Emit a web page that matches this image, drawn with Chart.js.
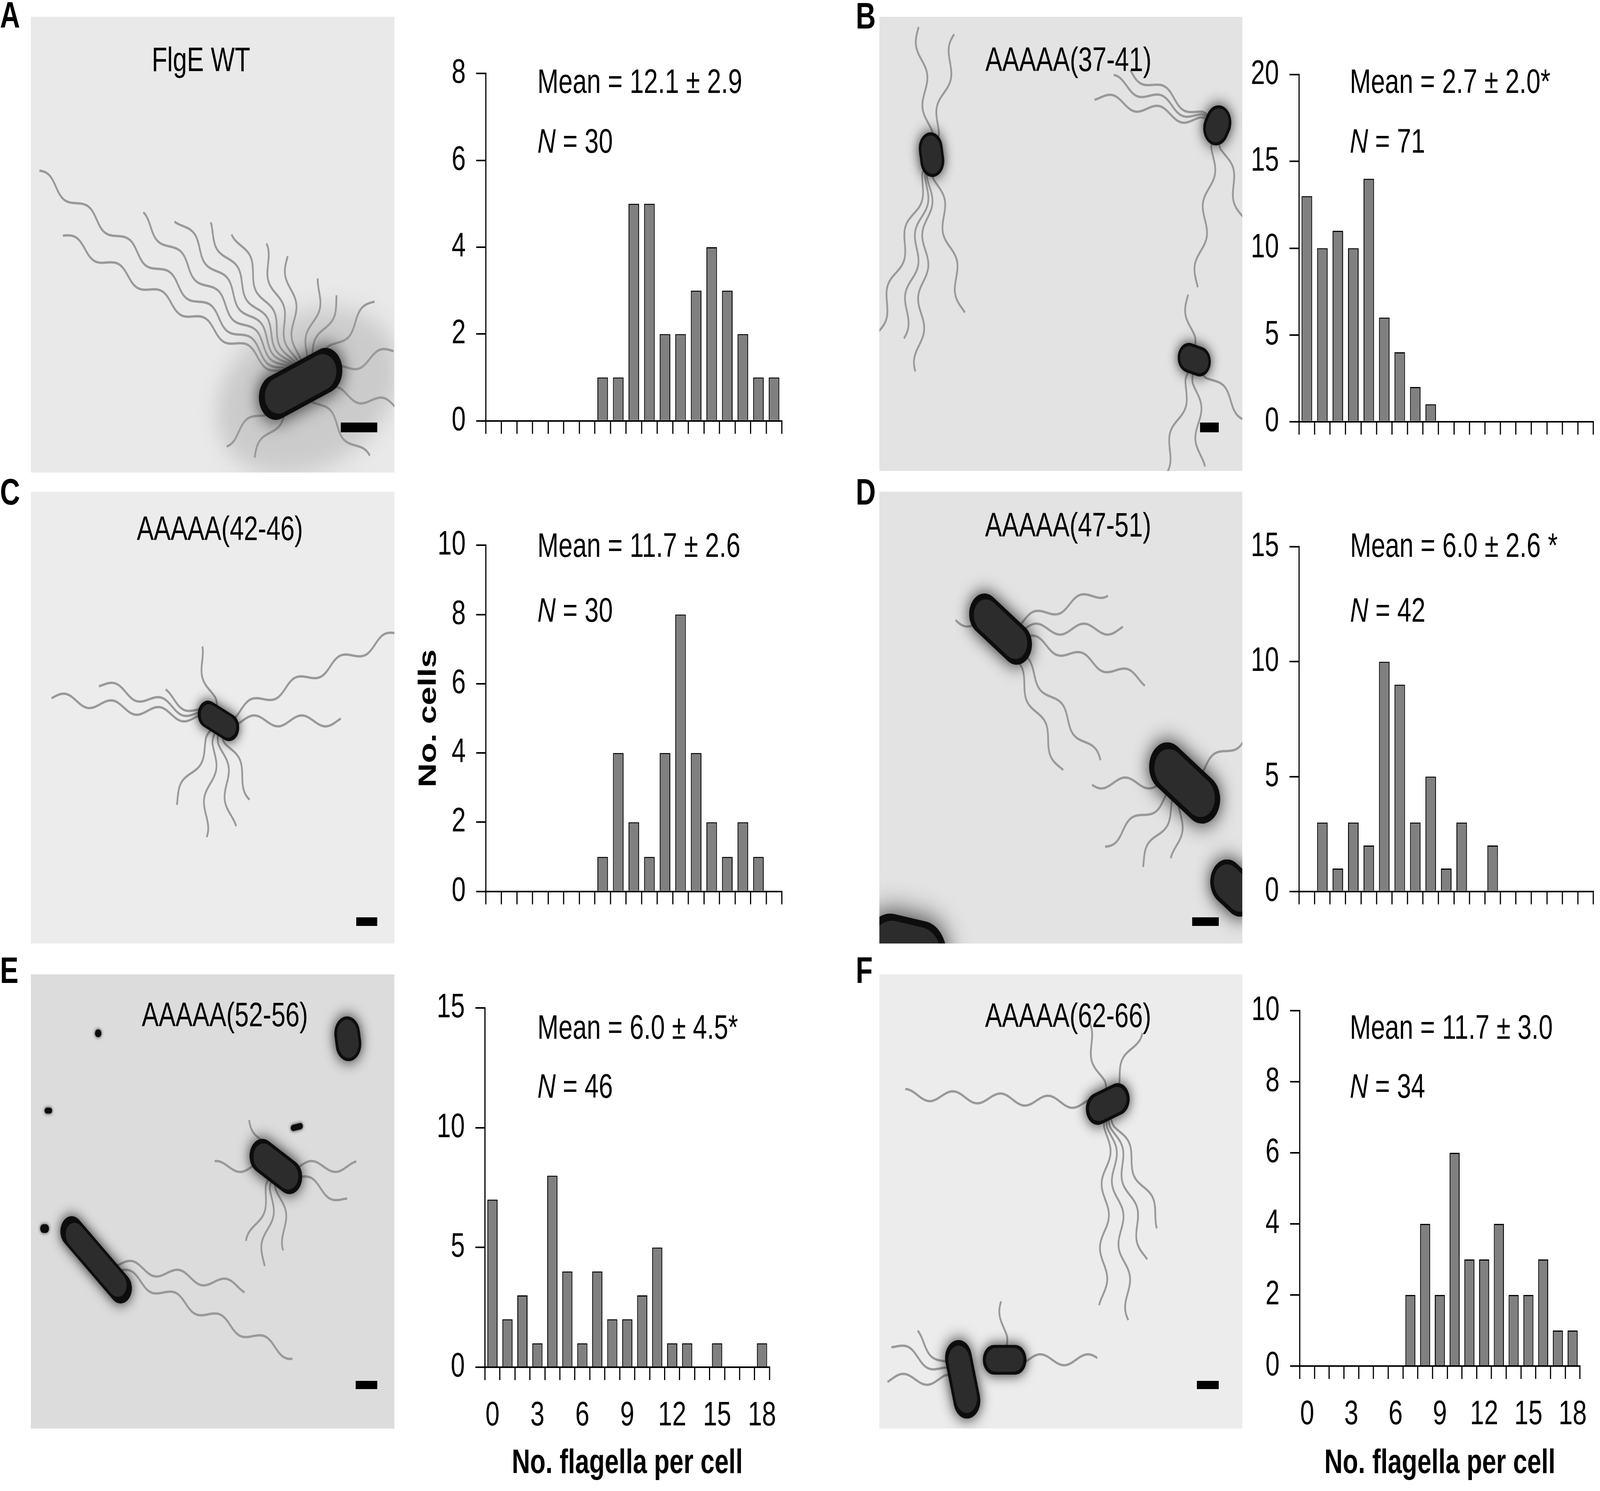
<!DOCTYPE html>
<html>
<head>
<meta charset="utf-8">
<script src="https://cdn.jsdelivr.net/npm/chart.js@4.4.1/dist/chart.umd.min.js"></script>
<style>
  html, body { margin: 0; padding: 0; background: #fff; overflow: hidden; }
  #fig { position: absolute; left: 0; top: 0; width: 5493px; height: 3818px; transform-origin: 0 0;
         font-family: 'Liberation Sans', Arial, sans-serif; color: #000; background: #fff; }
  .txt { position: absolute; white-space: nowrap; line-height: 1; }
  #fig canvas { position: absolute; }
</style>
</head>
<body>
<div id="fig"></div>
<script>
// histogram bins (no. flagella per cell)
const flagellaBins = ['0','1','2','3','4','5','6','7','8','9','10','11','12','13','14','15','16','17','18'];
const xTickLabels = ['0','3','6','9','12','15','18'];

// no. cells per bin
const countsWT    = [0,0,0,0,0,0,0,1,1,5,5,2,2,3,4,3,2,1,1];
const counts37_41 = [13,10,11,10,14,6,4,2,1,0,0,0,0,0,0,0,0,0,0];
const counts42_46 = [0,0,0,0,0,0,0,1,4,2,1,4,8,4,2,1,2,1,0];
const counts47_51 = [0,3,1,3,2,10,9,3,5,1,3,0,2,0,0,0,0,0,0];
const counts52_56 = [7,2,3,1,8,4,1,4,2,2,3,5,1,1,0,1,0,0,1];
const counts62_66 = [0,0,0,0,0,0,0,2,4,2,6,3,3,4,2,2,3,1,1];

const strainLabels = ['FlgE WT','AAAAA(37-41)','AAAAA(42-46)','AAAAA(47-51)','AAAAA(52-56)','AAAAA(62-66)'];
const meanLabels = ['Mean = 12.1 ± 2.9','Mean = 2.7 ± 2.0*','Mean = 11.7 ± 2.6','Mean = 6.0 ± 2.6 *','Mean = 6.0 ± 4.5*','Mean = 11.7 ± 3.0'];
const nLabels = [30, 71, 30, 42, 46, 34];

const fig = document.getElementById('fig');
// the figure is laid out at 5493 x 3818 px; stretch it onto whatever window we get
fig.style.transform = 'scale(' + (window.innerWidth / 5493) + ',' + (window.innerHeight / 3818) + ')';

Chart.defaults.font.family = "'Liberation Sans', Arial, sans-serif";
Chart.defaults.color = '#000';

// place text by its baseline
function addText(html, x, baseline, size, opt) {
  opt = opt || {};
  const d = document.createElement('div');
  d.className = 'txt';
  d.innerHTML = html;
  d.style.fontSize = size + 'px';
  d.style.fontWeight = opt.bold ? 'bold' : 'normal';
  d.style.left = x + 'px';
  d.style.top = (baseline - 0.8465 * size) + 'px';
  if (opt.center) d.style.transform = 'translateX(-50%)';
  fig.appendChild(d);
}

// --- micrographs (only a rough sketch of the EM images) ---
function wave(ctx, x0, y0, ang, len) {
  const a = ang * Math.PI / 180, c = Math.cos(a), s = Math.sin(a);
  ctx.beginPath();
  for (let t = 0; t <= len; t += 6) {
    const off = 14 * Math.sin(t / 26) * Math.min(1, t / 60);
    const px = x0 + c * t - s * off, py = y0 + s * t + c * off;
    if (t === 0) ctx.moveTo(px, py); else ctx.lineTo(px, py);
  }
  ctx.stroke();
}

function cell(ctx, c) {
  ctx.save();
  ctx.translate(c.x, c.y);
  ctx.rotate((c.rot || 0) * Math.PI / 180);
  const l = c.len, w = c.wid, r = w / 2;
  const path = () => {
    ctx.beginPath();
    ctx.moveTo(-l / 2 + r, -r);
    ctx.lineTo(l / 2 - r, -r);
    ctx.arc(l / 2 - r, 0, r, -Math.PI / 2, Math.PI / 2);
    ctx.lineTo(-l / 2 + r, r);
    ctx.arc(-l / 2 + r, 0, r, Math.PI / 2, Math.PI * 1.5);
    ctx.closePath();
  };
  ctx.shadowColor = 'rgba(0,0,0,0.85)';
  ctx.shadowBlur = Math.max(10, w * 0.45);
  ctx.fillStyle = '#0d0d0d';
  path(); ctx.fill();
  ctx.shadowBlur = 0;
  if (w > 40) {
    ctx.scale(0.86, 0.8);
    ctx.fillStyle = '#2c2c2c';
    path(); ctx.fill();
  }
  ctx.restore();
}

const micrographs = [
  { x: 106, y: 43, w: 1248, h: 1167, bg: '#e9e9e9', bar: [1064, 1039, 125, 25],
    halo: { x: 950, y: 960, rx: 320, ry: 200 },
    cells: [{ x: 926, y: 940, len: 300, wid: 115, rot: -22,
      fl: [[211, 1050], [205, 900], [218, 700], [225, 600], [232, 520], [240, 450], [250, 380], [262, 330], [285, 280], [300, 260], [320, 330], [345, 330], [10, 330], [40, 300], [130, 250], [150, 300]] }] },
  { x: 3019, y: 43, w: 1246, h: 1163, bg: '#e3e3e3', bar: [1101, 1039, 64, 25],
    cells: [
      { x: 179, y: 353, len: 115, wid: 82, rot: 80, fl: [[262, 330], [285, 320], [95, 560], [102, 480], [112, 620], [75, 420]] },
      { x: 1160, y: 278, len: 105, wid: 88, rot: -60, fl: [[190, 430], [198, 380], [205, 330], [100, 420], [70, 260]] },
      { x: 1081, y: 878, len: 115, wid: 76, rot: 15, fl: [[262, 170], [110, 360], [85, 280], [40, 250]] }] },
  { x: 106, y: 1259, w: 1248, h: 1157, bg: '#ececec', bar: [1117, 1090, 72, 22],
    cells: [{ x: 644, y: 587, len: 150, wid: 70, rot: 25,
      fl: [[186, 580], [193, 420], [0, 420], [340, 700], [250, 200], [100, 300], [80, 280], [125, 260], [60, 230], [200, 200]] }] },
  { x: 3019, y: 1259, w: 1246, h: 1157, bg: '#e3e3e3', bar: [1074, 1090, 91, 22],
    cells: [
      { x: 416, y: 352, len: 240, wid: 105, rot: 35, fl: [[0, 420], [15, 520], [45, 480], [345, 380], [190, 160], [60, 420]] },
      { x: 1048, y: 746, len: 270, wid: 125, rot: 35, fl: [[180, 320], [150, 320], [125, 260], [330, 260], [100, 200]] },
      { x: 1216, y: 1015, len: 170, wid: 115, rot: 35, fl: [] },
      { x: 91, y: 1175, len: 280, wid: 170, rot: 10, fl: [] }] },
  { x: 106, y: 2495, w: 1248, h: 1163, bg: '#dcdcdc', bar: [1115, 1041, 74, 21],
    cells: [
      { x: 224, y: 731, len: 300, wid: 78, rot: 41, fl: [[20, 720], [8, 520]] },
      { x: 841, y: 492, len: 195, wid: 88, rot: 30, fl: [[180, 210], [115, 220], [100, 260], [80, 220], [20, 260], [0, 280], [235, 150]] },
      { x: 1088, y: 165, len: 115, wid: 88, rot: 80, fl: [] },
      { x: 231, y: 151, len: 22, wid: 20, rot: 0, fl: [] },
      { x: 60, y: 349, len: 26, wid: 15, rot: 0, fl: [] },
      { x: 47, y: 651, len: 30, wid: 22, rot: 0, fl: [] },
      { x: 913, y: 391, len: 42, wid: 16, rot: -10, fl: [] }] },
  { x: 3019, y: 2495, w: 1246, h: 1163, bg: '#ececec', bar: [1090, 1041, 75, 21],
    cells: [
      { x: 784, y: 332, len: 155, wid: 82, rot: -20, fl: [[182, 700], [92, 520], [82, 560], [72, 420], [60, 360], [300, 220], [250, 220]] },
      { x: 430, y: 987, len: 150, wid: 76, rot: 0, fl: [[0, 320], [268, 150]] },
      { x: 286, y: 1037, len: 205, wid: 92, rot: 75, fl: [[200, 260], [180, 260], [215, 200]] }] }
];

micrographs.forEach(m => {
  const cv = document.createElement('canvas');
  cv.width = m.w; cv.height = m.h;
  cv.style.left = m.x + 'px'; cv.style.top = m.y + 'px';
  cv.style.width = m.w + 'px'; cv.style.height = m.h + 'px';
  fig.appendChild(cv);
  const ctx = cv.getContext('2d');
  ctx.fillStyle = m.bg;
  ctx.fillRect(0, 0, m.w, m.h);
  if (m.halo) {
    ctx.save();
    ctx.filter = 'blur(30px)';
    ctx.fillStyle = '#cbcbcb';
    ctx.beginPath();
    ctx.ellipse(m.halo.x, m.halo.y, m.halo.rx, m.halo.ry, -0.3, 0, Math.PI * 2);
    ctx.fill();
    ctx.restore();
  }
  ctx.strokeStyle = '#999';
  ctx.lineWidth = 6;
  m.cells.forEach(c => c.fl.forEach(f => wave(ctx, c.x, c.y, f[0], f[1])));
  m.cells.forEach(c => cell(ctx, c));
  ctx.fillStyle = '#000';
  ctx.fillRect(m.bar[0], m.bar[1], m.bar[2], m.bar[3]);
});

// --- histograms ---
const panels = [
  { counts: countsWT,    yMax: 8,  step: 2, L: 1668, R: 2684, T: 180,  B: 1106 },
  { counts: counts37_41, yMax: 20, step: 5, L: 4460, R: 5470, T: 183,  B: 1108 },
  { counts: counts42_46, yMax: 10, step: 2, L: 1668, R: 2684, T: 1388, B: 2311, yTitle: true },
  { counts: counts47_51, yMax: 15, step: 5, L: 4460, R: 5470, T: 1392, B: 2311 },
  { counts: counts52_56, yMax: 15, step: 5, L: 1665, R: 2685, T: 2573, B: 3501, bottom: true },
  { counts: counts62_66, yMax: 10, step: 2, L: 4462, R: 5468, T: 2580, B: 3498, bottom: true }
];

panels.forEach(p => {
  const yW = p.yTitle ? 330 : 250;
  const xH = p.bottom ? 3818 - p.B : 60;
  const left = p.L - yW, top = p.T - 80;
  const cv = document.createElement('canvas');
  const w = p.R + 20 - left, h = p.B + xH - top;
  cv.width = w; cv.height = h;
  cv.style.left = left + 'px';
  cv.style.top = top + 'px';
  cv.style.width = w + 'px';
  cv.style.height = h + 'px';
  fig.appendChild(cv);

  new Chart(cv, {
    type: 'bar',
    data: {
      labels: flagellaBins,
      datasets: [{
        data: p.counts,
        backgroundColor: '#808080',
        borderColor: '#000',
        borderWidth: 3,
        barPercentage: 0.68,
        categoryPercentage: 1
      }]
    },
    options: {
      responsive: false,
      animation: false,
      layout: { padding: { top: 80, right: 20, left: 0, bottom: 0 } },
      plugins: { legend: { display: false }, tooltip: { enabled: false } },
      scales: {
        x: {
          offset: true,
          grid: { offset: true, drawOnChartArea: false, tickLength: 33, lineWidth: 4, color: '#000' },
          border: { display: true, width: 4, color: '#000' },
          ticks: {
            autoSkip: false, maxRotation: 0, minRotation: 0, padding: 40,
            font: { size: 87 },
            callback: (v, i) => (p.bottom && xTickLabels.includes(flagellaBins[i])) ? flagellaBins[i] : ''
          },
          title: { display: !!p.bottom, text: 'No. flagella per cell', font: { size: 87, weight: 'bold' }, padding: { top: 0, bottom: 18 } },
          afterFit: s => { s.height = xH; }
        },
        y: {
          min: 0, max: p.yMax,
          ticks: { stepSize: p.step, padding: 36, font: { size: 87 } },
          grid: { drawOnChartArea: false, tickLength: 33, lineWidth: 4, color: '#000' },
          border: { display: true, width: 4, color: '#000' },
          title: { display: !!p.yTitle, text: 'No. cells', font: { size: 86, weight: 'bold' }, padding: { top: 83, bottom: 0 } },
          afterFit: s => { s.width = yW; }
        }
      }
    }
  });
});

// --- texts ---
const letterPos = [[0, 71], [2938, 73], [0, 1292], [2938, 1292], [0, 2517], [2938, 2517]];
['A', 'B', 'C', 'D', 'E', 'F'].forEach((l, i) => addText(l, letterPos[i][0], letterPos[i][1], 95, { bold: true }));

const strainPos = [[690, 182], [3668, 182], [755, 1383], [3667, 1374], [772, 2628], [3667, 2630]];
strainLabels.forEach((s, i) => addText(s, strainPos[i][0], strainPos[i][1], 87, { center: true }));

const statPos = [[1845, 238, 391], [4634, 238, 391], [1845, 1426, 1592], [4635, 1426, 1592], [1845, 2660, 2811], [4634, 2660, 2811]];
meanLabels.forEach((m, i) => {
  addText(m, statPos[i][0], statPos[i][1], 87);
  addText('<i>N</i> = ' + nLabels[i], statPos[i][0], statPos[i][2], 87);
});
</script>
</body>
</html>
